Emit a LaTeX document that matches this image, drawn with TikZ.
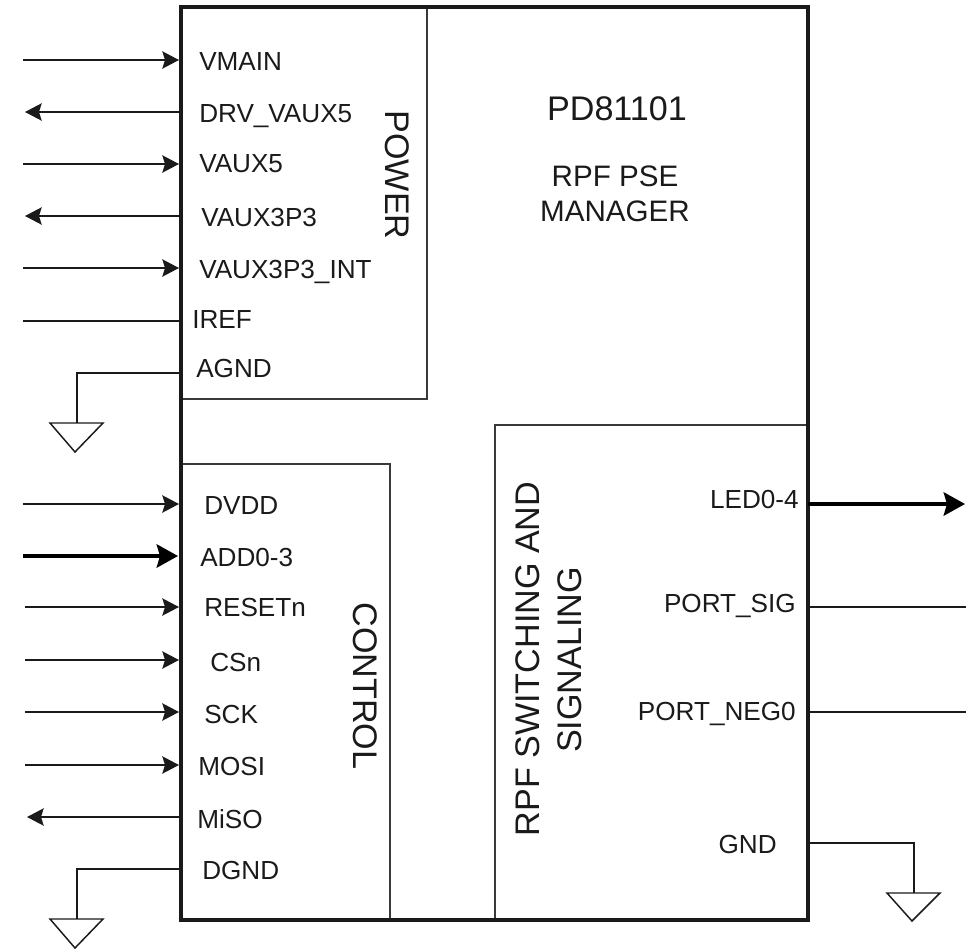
\documentclass[tikz,border=0pt]{standalone}
\usepackage{fontspec}
\setmainfont{Liberation Sans}
\usetikzlibrary{arrows.meta}
\definecolor{ink}{HTML}{1A1A1A}
\definecolor{inner}{HTML}{3A3A3A}
\tikzset{
  x=0.75pt,y=-0.75pt,
  outer/.style={draw=ink,line width=2.3pt},
  box/.style={draw=inner,line width=1.2pt},
  wire/.style={draw=ink,line width=1.2pt},
  heavywire/.style={draw=black,line width=2.6pt},
  tip/.style={-{Stealth[length=12.5pt,width=13pt,inset=2pt]}},
  bigtip/.style={-{Stealth[length=16pt,width=17.5pt,inset=2.5pt]}},
  lab/.style={anchor=west,font=\fontsize{19.6pt}{23pt}\selectfont,text=ink,inner sep=0pt,text height=14pt,text depth=0pt},
  labr/.style={anchor=east,font=\fontsize{19.6pt}{23pt}\selectfont,text=ink,inner sep=0pt,text height=14pt,text depth=0pt},
  big/.style={font=\fontsize{25.6pt}{30pt}\selectfont,text=ink,inner sep=0pt,text height=18.3pt,text depth=0pt},
  mid/.style={font=\fontsize{22.2pt}{26pt}\selectfont,text=ink,inner sep=0pt,text height=15.9pt,text depth=0pt},
  gnd/.style={draw=ink,line width=1.1pt,line join=miter},
}
\begin{document}
\begin{tikzpicture}
\useasboundingbox (0,0) rectangle (972,950);
% boxes
\draw[box] (181,8) rectangle (427,399);
\draw[box] (181,464) rectangle (390,919);
\draw[box] (495,425) rectangle (808,919);
\draw[outer] (181,7) rectangle (808,920);
% free ends
\foreach \n/\x/\y in {a/23/60,b/25/112,c/23/164,d/25/216,e/23/268,f/23/321,g/23/504,h/23/556,i/25/607,j/25/660,k/25/712,l/25/765,m/27/817,
 a2/179/60,b2/181/112,c2/179/164,d2/181/216,e2/179/268,f2/181/321,g2/179/504,h2/178/556,i2/179/607,j2/179/660,k2/179/712,l2/179/765,m2/181/817,
 n/808/504,n2/965/504,o/808/607,o2/966/607,p/808/712,p2/966/712,
 q/181/373,q1/77/373,r/181/869,r1/77/869,s/808/843,s1/914/843}
 \coordinate (\n) at (\x,\y);
% arrows
\draw[wire,tip] (a) -- (a2);
\draw[wire,tip] (b2) -- (b);
\draw[wire,tip] (c) -- (c2);
\draw[wire,tip] (d2) -- (d);
\draw[wire,tip] (e) -- (e2);
\draw[wire] (f) -- (f2);
\draw[wire,tip] (g) -- (g2);
\draw[heavywire,bigtip] (h) -- (h2);
\draw[wire,tip] (i) -- (i2);
\draw[wire,tip] (j) -- (j2);
\draw[wire,tip] (k) -- (k2);
\draw[wire,tip] (l) -- (l2);
\draw[wire,tip] (m2) -- (m);
\draw[heavywire,bigtip] (n) -- (n2);
\draw[wire] (o) -- (o2);
\draw[wire] (p) -- (p2);
% grounds
\coordinate (qg) at (77,423);
\coordinate (rg) at (77,919);
\coordinate (sg) at (914,893);
\draw[wire] (q) -- (q1) -- (qg);
\draw[wire] (r) -- (r1) -- (rg);
\draw[wire] (s) -- (s1) -- (sg);
\draw[gnd] (50,423) -- (103,423) -- (75,452) -- cycle;
\draw[gnd] (50,919) -- (103,919) -- (75,948) -- cycle;
\draw[gnd] (887,893) -- (940,893) -- (912,921) -- cycle;
% labels
\node[lab] (t1) at (199,61) {VMAIN};
\node[lab] (t2) at (199,113) {DRV\_VAUX5};
\node[lab] (t3) at (199,163) {VAUX5};
\node[lab] (t4) at (201,217) {VAUX3P3};
\node[lab] (t5) at (199,269) {VAUX3P3\_INT};
\node[lab] (t6) at (192,319) {IREF};
\node[lab] (t7) at (196,368) {AGND};
\node[lab] (t8) at (204,505) {DVDD};
\node[lab] (t9) at (200,557) {ADD0-3};
\node[lab] (t10) at (204,607) {RESETn};
\node[lab] (t11) at (210,662) {CSn};
\node[lab] (t12) at (204,714) {SCK};
\node[lab] (t13) at (198,766) {MOSI};
\node[lab] (t14) at (197,819) {MiSO};
\node[lab] (t15) at (202,870) {DGND};
\node[labr] (t16) at (799,499) {LED0-4};
\node[labr] (t17) at (796,603) {PORT\_SIG};
\node[labr] (t18) at (796,711) {PORT\_NEG0};
\node[labr] (t19) at (777,844) {GND};
\node[big] (u1) at (617,108) {PD81101};
\node[mid] (u2) at (615,176) {RPF PSE};
\node[mid] (u3) at (615,211) {MANAGER};
\node[big,rotate=-90] (u4) at (398,175) {POWER};
\node[big,rotate=-90] (u5) at (366,686) {CONTROL};
\node[big,rotate=90] (u6) at (527,659) {RPF SWITCHING AND};
\node[big,rotate=90] (u7) at (569,660) {SIGNALING};
\end{tikzpicture}
\end{document}
